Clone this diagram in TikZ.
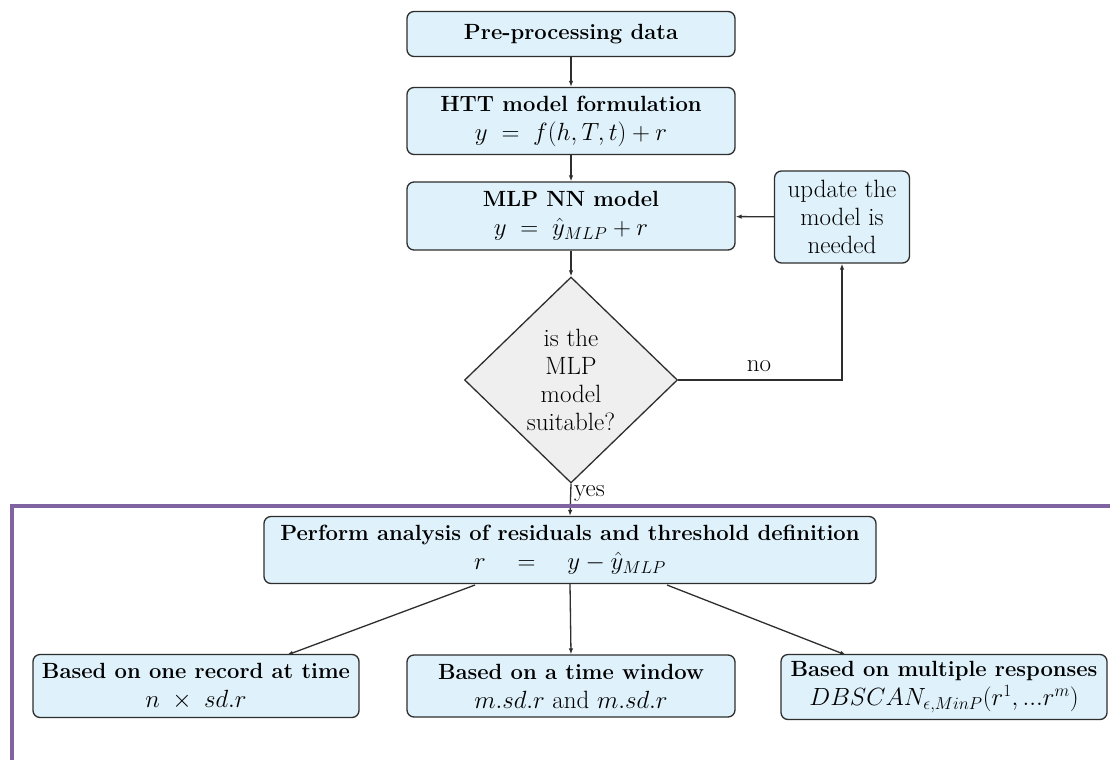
\documentclass[tikz,border=0pt]{standalone}
\usetikzlibrary{shapes.geometric,arrows.meta}
\definecolor{boxblue}{HTML}{DFF1FA}
\definecolor{diagray}{HTML}{EFEFEF}
\definecolor{framepurple}{HTML}{8064A2}
\definecolor{linegray}{HTML}{2E2E2E}
\newcommand\mathsz{\fontsize{25}{29}\selectfont}
\begin{document}
\begin{tikzpicture}[x=1pt,y=-1pt,
  box/.style={draw=linegray, fill=boxblue, rounded corners=7pt, line width=1.3pt,
    align=center, inner sep=0pt, font=\fontsize{22}{29}\selectfont},
  plainbox/.style={box, font=\fontsize{25}{28}\selectfont},
  decision/.style={draw=linegray, fill=diagray, diamond, line width=1.3pt,
    align=center, inner sep=0pt, font=\fontsize{25}{28}\selectfont},
  arr/.style={draw=linegray, line width=1.3pt, -{Latex[length=6pt,width=4.5pt]}},
  lbl/.style={font=\fontsize{25}{28}\selectfont, inner sep=1pt}
]
\useasboundingbox (0,0) rectangle (1110,760);
\fill[white] (0,0) rectangle (1110,760);

\node[box, minimum width=328pt, minimum height=45pt] (pre) at (571,34) {\textbf{Pre-processing data}};
\node[box, minimum width=328pt, minimum height=67pt] (htt) at (571,121)
  {\textbf{HTT model formulation}\\ {\mathsz$y\;=\;f(h,T,t)+r$}};
\node[box, minimum width=328pt, minimum height=68pt] (mlp) at (571,216)
  {\textbf{MLP NN model}\\ {\mathsz$y\;=\;\hat{y}_{MLP}+r$}};
\node[plainbox, minimum width=135pt, minimum height=92pt] (upd) at (842,217)
  {update the\\ model is\\ needed};
\node[decision, minimum width=213pt, minimum height=206pt] (dec) at (571,380)
  {is the\\ MLP\\ model\\ suitable?};
\node[box, minimum width=612pt, minimum height=67pt] (ana) at (570,550)
  {\textbf{Perform analysis of residuals and threshold definition}\\ {\mathsz$r\quad=\quad y-\hat{y}_{MLP}$}};
\node[box, minimum width=326pt, minimum height=63pt] (one) at (196,686)
  {\textbf{Based on one record at time}\\ {\mathsz$n\;\times\;sd.r$}};
\node[box, minimum width=328pt, minimum height=62pt] (win) at (571,686)
  {\textbf{Based on a time window}\\ {\mathsz$m.sd.r$ and $m.sd.r$}};
\node[box, minimum width=326pt, minimum height=65pt] (mul) at (944,687)
  {\textbf{Based on multiple responses}\\ {\mathsz$DBSCAN_{\epsilon,MinP}(r^1,...r^m)$}};

\coordinate (corner) at (842,380);
\coordinate (aL) at (475,585);
\coordinate (aR) at (667,585);
\coordinate (tL) at (287,655);
\coordinate (tR) at (846,655);

\draw[arr] (pre) -- (htt);
\draw[arr] (htt) -- (mlp);
\draw[arr] (mlp) -- (dec);
\draw[arr] (upd) -- (mlp);
\draw[arr] (dec.east) -- (corner) -- (upd.south);
\node[lbl] (no) at (759,366) {no};
\draw[arr] (dec.south) -- (ana.north);
\node[lbl, anchor=west] (yes) at (573,494) {yes};
\draw[arr] (aL) -- (tL);
\draw[arr] (ana.south) -- (win.north);
\draw[arr] (aR) -- (tR);

\draw[framepurple, line width=4pt] (1110,506) -- (12,506) -- (12,760);
\end{tikzpicture}
\end{document}
